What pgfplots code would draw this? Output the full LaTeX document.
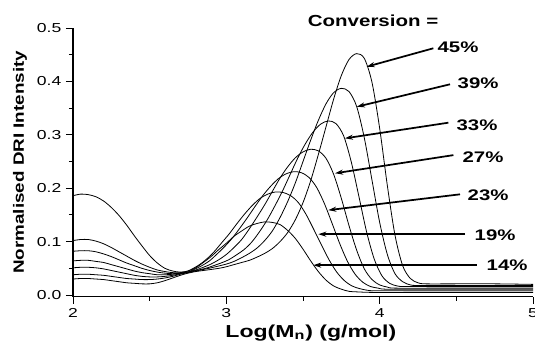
\documentclass[border=0pt]{standalone}
\usepackage{fontspec}
\setmainfont{Liberation Sans}
\usepackage{graphicx}
\usepackage{pgfplots}
\pgfplotsset{compat=1.18}
\usetikzlibrary{arrows.meta}
\newcommand{\hs}[1]{\scalebox{1.35}[1]{#1}}
\newcommand{\hb}[1]{\scalebox{1.33}[1]{#1}}
\pgfplotsset{curve/.style={black, line width=0.6pt, smooth, mark=none, solid}}
\begin{document}
\begin{tikzpicture}
\begin{axis}[
  scale only axis, width=345pt, height=201.5pt,
  xmin=2, xmax=5, ymin=-0.003, ymax=0.5,
  axis x line*=bottom, axis y line*=left,
  axis line style={line width=0.8pt, black},
  tick align=outside, major tick length=5.25pt, minor tick length=3pt,
  every tick/.style={black, line width=0.7pt},
  xtick={2,3,4,5}, xticklabels={\hs{2},\hs{3},\hs{4},\hs{5}},
  ytick={0,0.1,0.2,0.3,0.4,0.5},
  yticklabels={\hs{0.0},\hs{0.1},\hs{0.2},\hs{0.3},\hs{0.4},\hs{0.5}},
  minor x tick num=1, minor y tick num=1,
  tick label style={font=\fontsize{9.75}{11}\selectfont},
  xlabel={\scalebox{1.33}[1]{Log(M\textsubscript{n}) (g/mol)}},
  xlabel style={font=\fontsize{13}{15}\selectfont\bfseries, at={(axis description cs:0.517,-0.134)}, anchor=center},
  ylabel={\scalebox{1.26}[1]{Normalised DRI Intensity}},
  ylabel style={font=\fontsize{11.2}{13}\selectfont\bfseries, at={(axis description cs:-0.115,0.5)}, anchor=center},
  clip=false,
]
% 14%
\addplot[curve] coordinates {(2.00,0.186) (2.05,0.189) (2.10,0.188) (2.15,0.184) (2.20,0.176) (2.25,0.164) (2.30,0.149) (2.35,0.131) (2.40,0.111) (2.45,0.092) (2.50,0.074) (2.55,0.060) (2.60,0.050) (2.65,0.045) (2.70,0.043) (2.75,0.045) (2.80,0.051) (2.85,0.061) (2.90,0.072) (2.95,0.085) (3.00,0.097) (3.05,0.110) (3.10,0.120) (3.15,0.129) (3.20,0.134) (3.25,0.137) (3.30,0.136) (3.35,0.132) (3.40,0.121) (3.45,0.106) (3.50,0.086) (3.55,0.064) (3.60,0.044) (3.65,0.028) (3.70,0.017) (3.75,0.011) (3.80,0.007) (3.85,0.006) (3.95,0.005) (4.20,0.005) (4.60,0.005) (5.00,0.005)};
% 19%
\addplot[curve] coordinates {(2.00,0.102) (2.05,0.104) (2.10,0.104) (2.15,0.101) (2.20,0.096) (2.25,0.089) (2.30,0.081) (2.35,0.073) (2.40,0.065) (2.45,0.058) (2.50,0.052) (2.55,0.047) (2.60,0.044) (2.65,0.042) (2.70,0.042) (2.75,0.045) (2.82,0.056) (2.87,0.067) (2.92,0.081) (2.97,0.098) (3.02,0.115) (3.07,0.134) (3.12,0.152) (3.17,0.168) (3.22,0.181) (3.27,0.189) (3.32,0.193) (3.37,0.192) (3.42,0.186) (3.47,0.173) (3.52,0.151) (3.57,0.123) (3.62,0.094) (3.67,0.066) (3.72,0.043) (3.77,0.027) (3.82,0.017) (3.87,0.012) (3.92,0.009) (3.97,0.008) (4.20,0.008) (4.60,0.008) (5.00,0.008)};
% 23%
\addplot[curve] coordinates {(2.00,0.082) (2.05,0.083) (2.10,0.083) (2.15,0.081) (2.20,0.077) (2.25,0.072) (2.30,0.066) (2.35,0.060) (2.40,0.055) (2.45,0.050) (2.50,0.046) (2.55,0.043) (2.60,0.041) (2.65,0.040) (2.70,0.041) (2.75,0.043) (2.79,0.048) (2.84,0.055) (2.89,0.064) (2.94,0.077) (2.99,0.091) (3.04,0.107) (3.09,0.126) (3.14,0.146) (3.19,0.167) (3.24,0.187) (3.29,0.204) (3.34,0.218) (3.39,0.227) (3.44,0.231) (3.49,0.229) (3.54,0.220) (3.59,0.201) (3.64,0.171) (3.69,0.134) (3.74,0.096) (3.79,0.063) (3.84,0.039) (3.89,0.024) (3.94,0.016) (3.99,0.013) (4.04,0.011) (4.30,0.011) (4.70,0.011) (5.00,0.011)};
% 27%
\addplot[curve] coordinates {(2.00,0.064) (2.05,0.065) (2.10,0.065) (2.15,0.063) (2.20,0.061) (2.25,0.057) (2.30,0.053) (2.35,0.049) (2.40,0.045) (2.45,0.042) (2.50,0.040) (2.55,0.038) (2.60,0.038) (2.65,0.039) (2.70,0.041) (2.75,0.043) (2.80,0.047) (2.85,0.052) (2.90,0.058) (2.95,0.066) (3.00,0.076) (3.05,0.089) (3.10,0.104) (3.15,0.124) (3.20,0.146) (3.25,0.169) (3.30,0.194) (3.35,0.219) (3.40,0.240) (3.45,0.257) (3.50,0.268) (3.55,0.273) (3.60,0.270) (3.65,0.256) (3.70,0.226) (3.75,0.181) (3.80,0.130) (3.85,0.084) (3.90,0.049) (3.95,0.029) (4.00,0.019) (4.05,0.015) (4.10,0.013) (4.40,0.013) (4.70,0.013) (5.00,0.013)};
% 33%
\addplot[curve] coordinates {(2.00,0.051) (2.05,0.052) (2.10,0.052) (2.15,0.051) (2.20,0.049) (2.25,0.046) (2.30,0.043) (2.35,0.040) (2.40,0.037) (2.45,0.035) (2.50,0.034) (2.55,0.034) (2.60,0.035) (2.65,0.037) (2.70,0.040) (2.75,0.043) (2.80,0.046) (2.865,0.050) (2.965,0.060) (3.015,0.066) (3.065,0.075) (3.115,0.085) (3.165,0.099) (3.215,0.118) (3.265,0.140) (3.315,0.166) (3.365,0.194) (3.415,0.225) (3.465,0.256) (3.515,0.283) (3.565,0.305) (3.615,0.320) (3.665,0.326) (3.715,0.321) (3.765,0.298) (3.815,0.249) (3.865,0.184) (3.915,0.118) (3.965,0.067) (4.015,0.036) (4.065,0.022) (4.115,0.017) (4.165,0.016) (4.40,0.016) (4.70,0.016) (5.00,0.016)};
% 39%
\addplot[curve] coordinates {(2.00,0.038) (2.05,0.039) (2.10,0.039) (2.15,0.038) (2.20,0.037) (2.25,0.035) (2.30,0.033) (2.35,0.031) (2.40,0.030) (2.45,0.029) (2.50,0.029) (2.55,0.030) (2.60,0.032) (2.65,0.035) (2.70,0.039) (2.75,0.042) (2.80,0.045) (2.90,0.051) (3.00,0.058) (3.05,0.063) (3.10,0.070) (3.15,0.078) (3.20,0.088) (3.25,0.102) (3.30,0.120) (3.35,0.145) (3.40,0.175) (3.45,0.210) (3.50,0.250) (3.55,0.290) (3.60,0.327) (3.65,0.358) (3.70,0.379) (3.75,0.387) (3.80,0.381) (3.85,0.353) (3.90,0.294) (3.95,0.215) (4.00,0.136) (4.05,0.076) (4.10,0.040) (4.15,0.025) (4.20,0.019) (4.25,0.018) (4.50,0.018) (4.75,0.018) (5.00,0.018)};
% 45%
\addplot[curve] coordinates {(2.00,0.030) (2.05,0.031) (2.10,0.031) (2.15,0.030) (2.20,0.029) (2.25,0.027) (2.30,0.025) (2.35,0.023) (2.40,0.022) (2.45,0.021) (2.50,0.021) (2.55,0.023) (2.60,0.027) (2.65,0.032) (2.70,0.037) (2.75,0.041) (2.80,0.044) (2.85,0.046) (2.95,0.050) (3.00,0.053) (3.05,0.057) (3.10,0.061) (3.15,0.065) (3.20,0.071) (3.25,0.078) (3.30,0.087) (3.35,0.100) (3.40,0.117) (3.45,0.141) (3.50,0.173) (3.55,0.214) (3.60,0.263) (3.65,0.315) (3.70,0.367) (3.75,0.411) (3.80,0.441) (3.85,0.452) (3.90,0.443) (3.95,0.398) (4.00,0.312) (4.05,0.205) (4.10,0.112) (4.15,0.055) (4.20,0.031) (4.25,0.023) (4.30,0.021) (4.50,0.021) (4.75,0.021) (5.00,0.020)};

% arrows
\draw[-{Stealth[length=6pt,width=3.8pt]}, line width=1.3pt] (axis cs:4.350,0.462) -- (axis cs:3.915,0.4275);
\draw[-{Stealth[length=6pt,width=3.8pt]}, line width=1.3pt] (axis cs:4.459,0.3946) -- (axis cs:3.851,0.3526);
\draw[-{Stealth[length=6pt,width=3.8pt]}, line width=1.3pt] (axis cs:4.448,0.3227) -- (axis cs:3.774,0.2934);
\draw[-{Stealth[length=6pt,width=3.8pt]}, line width=1.3pt] (axis cs:4.481,0.262) -- (axis cs:3.709,0.228);
\draw[-{Stealth[length=6pt,width=3.8pt]}, line width=1.3pt] (axis cs:4.524,0.1886) -- (axis cs:3.665,0.159);
\draw[-{Stealth[length=6pt,width=3.8pt]}, line width=1.3pt] (axis cs:4.557,0.114) -- (axis cs:3.600,0.114);
\draw[-{Stealth[length=6pt,width=3.8pt]}, line width=1.3pt] (axis cs:4.633,0.056) -- (axis cs:3.567,0.056);

\begin{scope}[every node/.style={font=\fontsize{11.5}{13}\selectfont\bfseries}]
\node at (axis cs:4.511,0.464) {\hb{45\%}};
\node at (axis cs:4.642,0.397) {\hb{39\%}};
\node at (axis cs:4.635,0.318) {\hb{33\%}};
\node at (axis cs:4.674,0.258) {\hb{27\%}};
\node at (axis cs:4.707,0.187) {\hb{23\%}};
\node at (axis cs:4.753,0.112) {\hb{19\%}};
\node at (axis cs:4.831,0.056) {\hb{14\%}};
\end{scope}
\node[font=\fontsize{12}{14}\selectfont\bfseries] at (axis cs:3.957,0.5137) {\scalebox{1.28}[1]{Conversion =}};

\coordinate (bbsw) at (axis cs:1.524,-0.088);
\coordinate (bbne) at (axis cs:5.013,0.5524);
\end{axis}
\pgfresetboundingbox
\useasboundingbox (bbsw) rectangle (bbne);
\end{tikzpicture}
\end{document}
